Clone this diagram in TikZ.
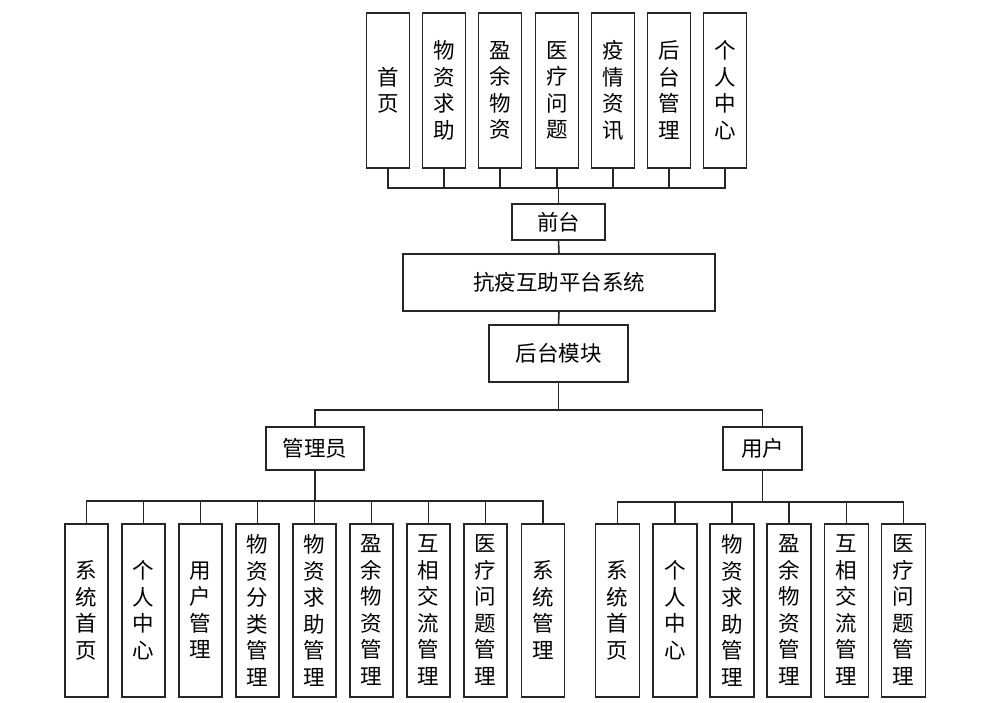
\documentclass[tikz,border=0pt]{standalone}
\usepackage{fontspec}
\setmainfont{Noto Sans CJK SC}
\begin{document}
\begin{tikzpicture}[x=1pt,y=-1pt,
  box/.style={draw=black!85,line width=1.5pt,fill=white,inner sep=0pt,align=center,
    font=\fontsize{21.5}{26.5}\selectfont},
  vbox/.style={box,minimum width=43pt,anchor=north},
  link/.style={draw=black!85,line width=1.6pt}]
\useasboundingbox (0,0) rectangle (994,702);
% top row
\foreach \n/\x/\t in {t1/388/{首\\页},t2/444/{物\\资\\求\\助},t3/500/{盈\\余\\物\\资},t4/557/{医\\疗\\问\\题},t5/613/{疫\\情\\资\\讯},t6/669/{后\\台\\管\\理},t7/725/{个\\人\\中\\心}}
  \node[vbox,minimum height=155pt] (\n) at (\x,12) {\t};
\node[box,minimum width=93pt,minimum height=36pt] (front) at (558.5,222) {前台};
\node[box,minimum width=312pt,minimum height=57pt] (sys) at (559,282.5) {抗疫互助平台系统};
\node[box,minimum width=139pt,minimum height=57pt] (back) at (558.5,353.5) {后台模块};
\node[box,minimum width=98pt,minimum height=43pt] (admin) at (315,448.5) {管理员};
\node[box,minimum width=79pt,minimum height=43pt] (user) at (762.5,448.5) {用户};
% admin children
\foreach \n/\x/\t in {a1/86.5/{系\\统\\首\\页},a2/143.5/{个\\人\\中\\心},a3/200.5/{用\\户\\管\\理},a4/257.5/{物\\资\\分\\类\\管\\理},a5/314.5/{物\\资\\求\\助\\管\\理},a6/371.5/{盈\\余\\物\\资\\管\\理},a7/428.5/{互\\相\\交\\流\\管\\理},a8/485.5/{医\\疗\\问\\题\\管\\理},a9/543/{系\\统\\管\\理}}
  \node[vbox,minimum height=173pt] (\n) at (\x,523) {\t};
% user children
\foreach \n/\x/\t in {u1/617.5/{系\\统\\首\\页},u2/675/{个\\人\\中\\心},u3/732/{物\\资\\求\\助\\管\\理},u4/789/{盈\\余\\物\\资\\管\\理},u5/846.5/{互\\相\\交\\流\\管\\理},u6/903.5/{医\\疗\\问\\题\\管\\理}}
  \node[vbox,minimum width=44pt,minimum height=173pt] (\n) at (\x,523) {\t};
% connectors
\coordinate (tb) at (558.5,188);
\draw[link] (front.north) -- (tb);
\foreach \n in {t1,t2,t3,t4,t5,t6,t7}
  \draw[link] (\n.south) |- (tb);
\draw[link] (front.south) -- (sys.north);
\draw[link] (sys.south) -- (back.north);
\coordinate (mb) at (558.5,410);
\draw[link] (back.south) -- (mb);
\draw[link] (admin.north) |- (mb);
\draw[link] (user.north) |- (mb);
\coordinate (ab) at (315,501);
\draw[link] (admin.south) -- (ab);
\foreach \n in {a1,a2,a3,a4,a5,a6,a7,a8,a9}
  \draw[link] (\n.north) |- (ab);
\coordinate (ub) at (762.5,502);
\draw[link] (user.south) -- (ub);
\foreach \n in {u1,u2,u3,u4,u5,u6}
  \draw[link] (\n.north) |- (ub);
\end{tikzpicture}
\end{document}
